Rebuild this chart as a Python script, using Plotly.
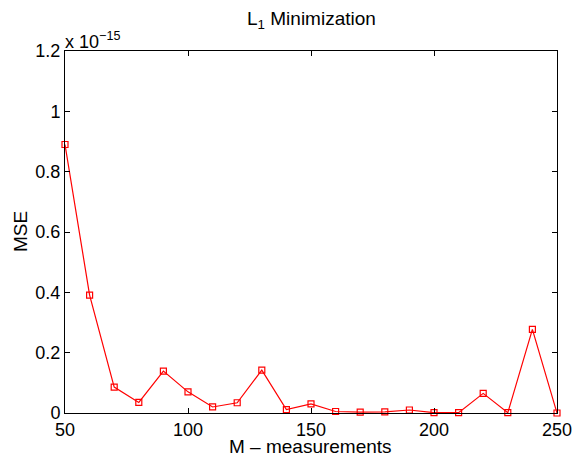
import plotly.graph_objects as go

measurements = [50, 60, 70, 80, 90, 100, 110, 120, 130, 140, 150,
                160, 170, 180, 190, 200, 210, 220, 230, 240, 250]
# MSE values in units of 1e-15
mse_e15 = [0.89, 0.391, 0.086, 0.035, 0.139, 0.070, 0.020, 0.034, 0.142, 0.011, 0.030,
           0.005, 0.003, 0.004, 0.010, 0.001, 0.001, 0.065, 0.001, 0.277, 0.0]
x_ticks = [50, 100, 150, 200, 250]
y_ticks = [0, 0.2, 0.4, 0.6, 0.8, 1, 1.2]
y_ticklabels = ["0", "0.2", "0.4", "0.6", "0.8", "1", "1.2"]

font = "Liberation Sans, Arial, Helvetica, sans-serif"
tick_size = 18
label_size = 19

fig = go.Figure()
fig.add_trace(go.Scatter(
    x=measurements, y=mse_e15, mode="lines+markers",
    line=dict(color="#ff0000", width=1.2),
    marker=dict(symbol="square-open", size=6, color="#ff0000", line=dict(width=1.2)),
    cliponaxis=False, showlegend=False,
))

axis_common = dict(
    showgrid=False, zeroline=False, showline=True, linecolor="black", linewidth=1,
    mirror="ticks", ticks="inside", ticklen=5, tickwidth=1, tickcolor="black",
    tickfont=dict(family=font, size=tick_size, color="black"), automargin=False,
)

fig.update_layout(
    width=574, height=455,
    margin=dict(l=65, r=17, t=51, b=42),
    paper_bgcolor="white", plot_bgcolor="white",
    font=dict(family=font, size=tick_size, color="black"),
    xaxis=dict(range=[50, 250], tickvals=x_ticks, **axis_common),
    yaxis=dict(range=[0, 1.2], tickvals=y_ticks, ticktext=y_ticklabels, **axis_common),
)

# title
fig.add_annotation(
    text="L<sub>1</sub> Minimization", xref="paper", yref="paper",
    x=0.5, y=1, xanchor="center", yanchor="middle", yshift=31, showarrow=False,
    font=dict(family=font, size=label_size, color="black"),
)
# x label
fig.add_annotation(
    text="M – measurements", xref="paper", yref="paper",
    x=0.5, y=0, xanchor="center", yanchor="middle", yshift=-33, xshift=-1, showarrow=False,
    font=dict(family=font, size=label_size, color="black"),
)
# y label
fig.add_annotation(
    text="MSE", xref="paper", yref="paper", textangle=-90,
    x=0, y=0.5, xanchor="center", yanchor="middle", xshift=-45, showarrow=False,
    font=dict(family=font, size=label_size, color="black"),
)
# exponent
fig.add_annotation(
    text="x 10<sup>−15</sup>", xref="paper", yref="paper", x=0, y=1,
    xanchor="left", yanchor="bottom", showarrow=False, yshift=-3, xshift=-2,
    font=dict(family=font, size=tick_size, color="black"),
)

fig.write_html("out.html", config={"displayModeBar": False},
               post_script="document.body.style.margin='0';")
